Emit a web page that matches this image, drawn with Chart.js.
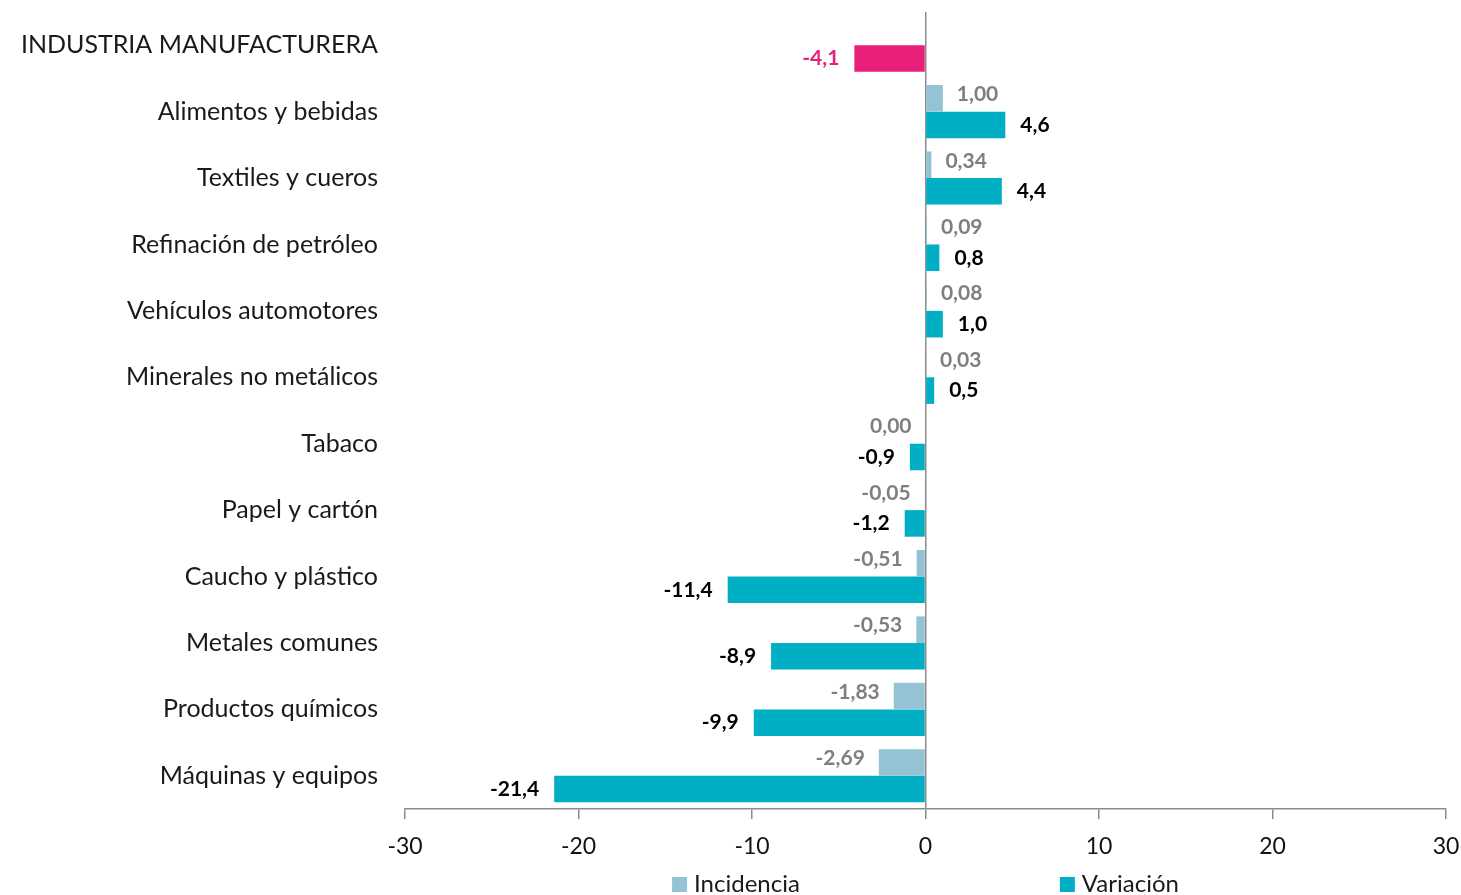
<!DOCTYPE html>
<html>
<head>
<meta charset="utf-8">
<script src="https://cdn.jsdelivr.net/npm/chart.js@4/dist/chart.umd.min.js"></script>
<style>
    html, body { margin: 0; padding: 0; background: #fff; }
    #wrap { width: 1461px; height: 895px; position: relative; }
</style>
</head>
<body>
<div id="wrap"><canvas id="chart"></canvas></div>
<script>
    // ------------------------------------------------------------------
    // Data
    // ------------------------------------------------------------------
    const categories = [
        'INDUSTRIA MANUFACTURERA',
        'Alimentos y bebidas',
        'Textiles y cueros',
        'Refinación de petróleo',
        'Vehículos automotores',
        'Minerales no metálicos',
        'Tabaco',
        'Papel y cartón',
        'Caucho y plástico',
        'Metales comunes',
        'Productos químicos',
        'Máquinas y equipos'
    ];
    const incidencia = [null, 1.00, 0.34, 0.09, 0.08, 0.03, 0.00, -0.05, -0.51, -0.53, -1.83, -2.69];
    const variacion = [-4.1, 4.6, 4.4, 0.8, 1.0, 0.5, -0.9, -1.2, -11.4, -8.9, -9.9, -21.4];
    const xTicks = [-30, -20, -10, 0, 10, 20, 30];

    const FONT = 'Lato, "Open Sans", sans-serif';
    const INC_COLOR = '#93c3d4';
    const VAR_COLOR = '#00afc3';
    const TOTAL_COLOR = '#e8207a';
    const AXIS_COLOR = '#8c8c8c';

    // Value labels next to the bar ends + custom legend under the axis
    const labelsPlugin = {
        id: 'barLabels',
        afterDatasetsDraw(chart) {
            const c = chart.ctx;
            c.save();
            chart.data.datasets.forEach((ds, di) => {
                const meta = chart.getDatasetMeta(di);
                meta.data.forEach((bar, i) => {
                    const v = ds.data[i];
                    if (v === null || v === undefined) return;
                    const isInc = di === 0;
                    const text = isInc
                        ? v.toFixed(2).replace('.', ',')
                        : v.toFixed(1).replace('.', ',');
                    const off = isInc ? 14 : 15;
                    const y = bar.y + (isInc ? -4 : 0);
                    c.font = 'bold 21px ' + FONT;
                    c.fillStyle = isInc ? '#7f7f7f' : (i === 0 ? TOTAL_COLOR : '#000');
                    c.textBaseline = 'middle';
                    if (v > 0) {
                        c.textAlign = 'left';
                        c.fillText(text, bar.x + off, y);
                    } else {
                        c.textAlign = 'right';
                        c.fillText(text, Math.min(bar.x, bar.base) - off, y);
                    }
                });
            });

            // legend
            const area = chart.chartArea;
            const items = chart.data.datasets.map(ds => ({ label: ds.label, color: ds.legendColor }));
            c.font = '24px ' + FONT;
            c.textAlign = 'left';
            c.textBaseline = 'middle';
            const box = 15, gapText = 7, gapItems = 260;
            const widths = items.map(it => box + gapText + c.measureText(it.label).width);
            const total = widths.reduce((a, b) => a + b, 0) + gapItems * (items.length - 1);
            let x = (area.left + area.right) / 2 - total / 2;
            const ly = 884;
            items.forEach((it, k) => {
                c.fillStyle = it.color;
                c.fillRect(x, ly - 7, box, box);
                c.fillStyle = '#1a1a1a';
                c.fillText(it.label, x + box + gapText, ly);
                x += widths[k] + gapItems;
            });
            c.restore();
        }
    };

    new Chart(document.getElementById('chart'), {
        type: 'bar',
        data: {
            labels: categories,
            datasets: [
                {
                    label: 'Incidencia',
                    data: incidencia,
                    backgroundColor: INC_COLOR,
                    legendColor: INC_COLOR,
                    categoryPercentage: 0.8,
                    barPercentage: 1.0
                },
                {
                    label: 'Variación',
                    data: variacion,
                    backgroundColor: variacion.map((v, i) => i === 0 ? TOTAL_COLOR : VAR_COLOR),
                    legendColor: VAR_COLOR,
                    categoryPercentage: 0.8,
                    barPercentage: 1.0
                }
            ]
        },
        options: {
            indexAxis: 'y',
            responsive: true,
            maintainAspectRatio: false,
            animation: false,
            layout: { padding: { top: 12, right: 15, bottom: 0, left: 0 } },
            scales: {
                x: {
                    min: -30,
                    max: 30,
                    afterBuildTicks(scale) {
                        scale.ticks = xTicks.map(v => ({ value: v }));
                    },
                    afterFit(scale) {
                        scale.height = 86;
                        scale.paddingLeft = 0;
                        scale.paddingRight = 0;
                    },
                    border: { display: true, color: AXIS_COLOR, width: 1.5 },
                    grid: {
                        drawOnChartArea: true,
                        color: ctx => (ctx.tick && ctx.tick.value === 0) ? AXIS_COLOR : 'rgba(0,0,0,0)',
                        lineWidth: 1.5,
                        tickColor: AXIS_COLOR,
                        tickLength: 10
                    },
                    ticks: {
                        color: '#111',
                        font: { family: FONT, size: 23 },
                        padding: 14,
                        maxRotation: 0
                    }
                },
                y: {
                    afterFit(scale) {
                        scale.width = 405;
                        scale.paddingTop = 0;
                        scale.paddingBottom = 0;
                    },
                    border: { display: false },
                    grid: { display: false, drawTicks: false },
                    ticks: {
                        color: '#1a1a1a',
                        font: { family: FONT, size: 25 },
                        padding: 27,
                        autoSkip: false
                    }
                }
            },
            plugins: {
                legend: { display: false },
                tooltip: { enabled: false }
            }
        },
        plugins: [labelsPlugin]
    });
</script>
</body>
</html>
